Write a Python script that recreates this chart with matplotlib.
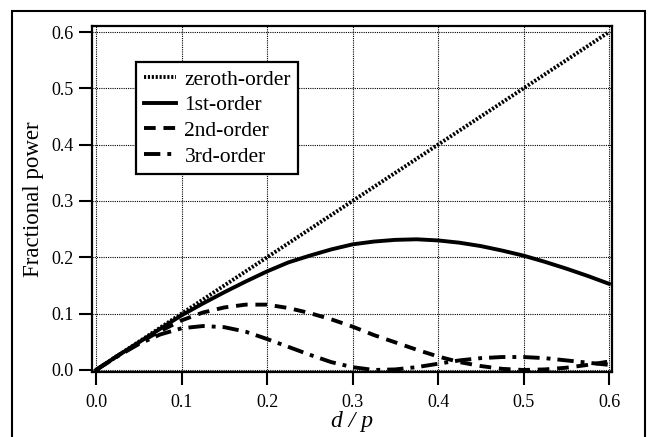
import matplotlib
matplotlib.use("Agg")
import matplotlib.pyplot as plt
from matplotlib.patches import Rectangle

# ---- data ----
x0 = [0.0, 0.6]
zeroth = [0.0, 0.6]

x = [0.0, 0.025, 0.05, 0.075, 0.1, 0.125, 0.15, 0.175, 0.2, 0.225, 0.25, 0.275,
     0.3, 0.325, 0.35, 0.375, 0.4, 0.425, 0.45, 0.475, 0.5, 0.525, 0.55, 0.575, 0.6]
first = [0.0, 0.025, 0.049, 0.073, 0.097, 0.118, 0.138, 0.157, 0.175, 0.191, 0.203,
         0.214, 0.223, 0.228, 0.231, 0.232, 0.230, 0.226, 0.220, 0.212, 0.203, 0.192,
         0.180, 0.167, 0.153]
second = [0.0, 0.025, 0.048, 0.069, 0.088, 0.102, 0.111, 0.116, 0.116, 0.110, 0.101,
          0.090, 0.077, 0.062, 0.049, 0.036, 0.024, 0.014, 0.007, 0.002, 0.000, 0.001,
          0.004, 0.009, 0.015]
third = [0.0, 0.024, 0.046, 0.063, 0.074, 0.078, 0.076, 0.068, 0.055, 0.041, 0.027,
         0.014, 0.005, 0.000, 0.001, 0.005, 0.011, 0.017, 0.021, 0.023, 0.023, 0.021,
         0.017, 0.013, 0.009]

labels = ["zeroth-order", "1st-order", "2nd-order", "3rd-order"]
xticks = [0.0, 0.1, 0.2, 0.3, 0.4, 0.5, 0.6]
yticks = [0.0, 0.1, 0.2, 0.3, 0.4, 0.5, 0.6]

plt.rcParams['font.family'] = ['Liberation Serif', 'DejaVu Serif']

fig = plt.figure(figsize=(6.5, 4.37), dpi=100)
ax = fig.add_axes([92/650, 1-372/437, 520/650, 346/437])

# outer frame
fig.patches.append(Rectangle((12/650, -0.05), 633/650, 1.05 - 11/437,
                             transform=fig.transFigure, fill=False,
                             edgecolor='black', linewidth=1.5, zorder=0))

ax.plot(x0, zeroth, color='black', lw=2.8, linestyle=(0, (0.55, 0.45)),
        label=labels[0], solid_capstyle='butt', dash_capstyle='butt')
ax.plot(x, first, color='black', lw=2.8, linestyle='-', label=labels[1])
ax.plot(x, second, color='black', lw=2.8, linestyle=(0, (3.0, 2.0)), label=labels[2])
ax.plot(x, third, color='black', lw=2.8, linestyle=(0, (4.2, 1.8, 1.0, 1.8)),
        label=labels[3])

ax.set_xlim(-0.0047, 0.6035)
ax.set_ylim(-0.0036, 0.6107)
ax.set_xticks(xticks)
ax.set_yticks(yticks)
ax.set_xticklabels([f"{v:.1f}" for v in xticks])
ax.set_yticklabels([f"{v:.1f}" for v in yticks])

ax.grid(True, color='black', linestyle=(0, (1, 1)), linewidth=0.8)
ax.set_axisbelow(True)
for s in ax.spines.values():
    s.set_linewidth(1.6)
ax.tick_params(direction='out', length=9.5, width=1.5, labelsize=13, pad=4)
ax.tick_params(axis='x', pad=6)

ax.set_ylabel("Fractional power", fontsize=16.5)
ax.yaxis.set_label_coords((44 - 92) / 520, 0.5)
ax.set_xlabel("d / p", fontsize=17, style='italic', labelpad=0)

leg = ax.legend(loc='upper left', bbox_to_anchor=(0.0846, 0.896), fontsize=15.5,
                handlelength=1.5, handletextpad=0.4, labelspacing=0.26,
                borderpad=0.35, fancybox=False, framealpha=1,
                edgecolor='black', borderaxespad=0)
leg.get_frame().set_linewidth(1.6)

fig.savefig("out.png", dpi=100)
